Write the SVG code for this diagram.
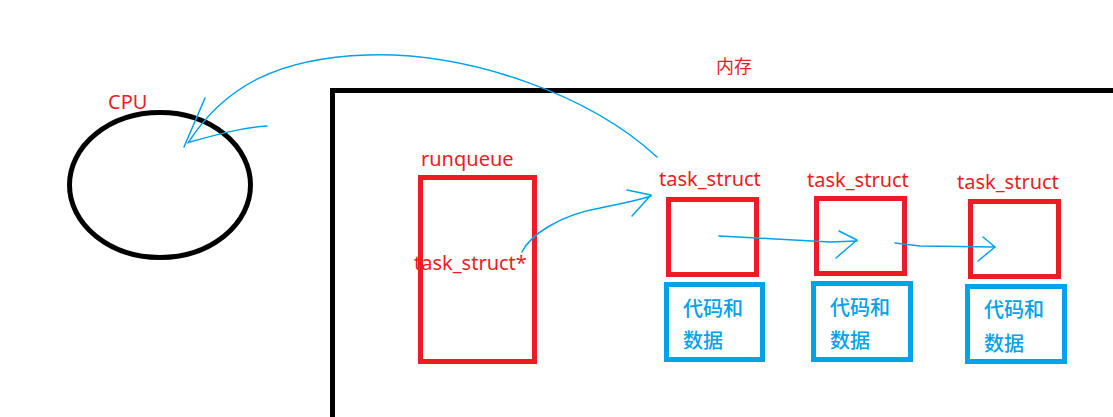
<svg xmlns="http://www.w3.org/2000/svg" width="1113" height="417" viewBox="0 0 1113 417">
<style>
.lbl{font-family:"Noto Sans","Noto Sans CJK SC",sans-serif;font-size:20px;fill:#ED1C24}
.cn{font-family:"Noto Sans CJK SC","Noto Sans",sans-serif;font-size:20px;font-weight:500;fill:#00A2E8}
.red{fill:none;stroke:#ED1C24;stroke-width:5}
.blue{fill:none;stroke:#00A2E8;stroke-width:5}
.conn{fill:none;stroke:#00A2E8;stroke-width:1.5;stroke-linecap:round;stroke-linejoin:round}
</style>
<rect width="1113" height="417" fill="#fff"/>
<g id="cpu">
<ellipse cx="160" cy="185" rx="90.5" ry="72.5" fill="none" stroke="#000" stroke-width="5"/>
<text class="lbl" x="108" y="109">CPU</text>
</g>
<g id="memory">
<path d="M332.5,417 V90.5 H1113" fill="none" stroke="#000" stroke-width="5"/>
<text class="lbl" x="716" y="73" style="font-family:'Noto Sans CJK SC',sans-serif;font-size:18px">内存</text>
</g>
<g id="runqueue">
<rect class="red" x="420.5" y="177.5" width="114" height="184"/>
<text class="lbl" x="421" y="166">runqueue</text>
<text class="lbl" x="414" y="270">task_struct*</text>
</g>
<g id="task1">
<text class="lbl" x="659" y="186">task_struct</text>
<rect class="red" x="668.5" y="199.5" width="88" height="75"/>
<rect class="blue" x="666.5" y="284.5" width="96" height="75"/>
<text class="cn" x="683" y="316">代码和</text>
<text class="cn" x="683" y="348">数据</text>
</g>
<g id="task2">
<text class="lbl" x="807" y="187">task_struct</text>
<rect class="red" x="816.5" y="198.5" width="88" height="75"/>
<rect class="blue" x="813.5" y="283.5" width="97" height="76"/>
<text class="cn" x="830" y="315">代码和</text>
<text class="cn" x="830" y="348">数据</text>
</g>
<g id="task3">
<text class="lbl" x="957" y="189">task_struct</text>
<rect class="red" x="970.5" y="201.5" width="88" height="75"/>
<rect class="blue" x="967.5" y="286.5" width="97" height="75"/>
<text class="cn" x="984" y="317">代码和</text>
<text class="cn" x="984" y="351">数据</text>
</g>
<g id="connectors">
<path class="conn" d="M657,157 C590,95 470,52 367,55 C280,58 225,85 188,143"/>
<path class="conn" d="M205,98 L184,147 M190,142 C215,135 240,128 267,126"/>
<path class="conn" d="M522,252 C530,235 560,215 600,208 C620,204 640,200 651,196"/>
<path class="conn" d="M627,190 L651,195 L632,216"/>
<path class="conn" d="M719,236 L757,238 L830,242 L857,241"/>
<path class="conn" d="M839,231 L857,240 L836,258"/>
<path class="conn" d="M895,243 L920,246 L995,247"/>
<path class="conn" d="M983,237 L995,247 L978,261"/>
</g>
</svg>
